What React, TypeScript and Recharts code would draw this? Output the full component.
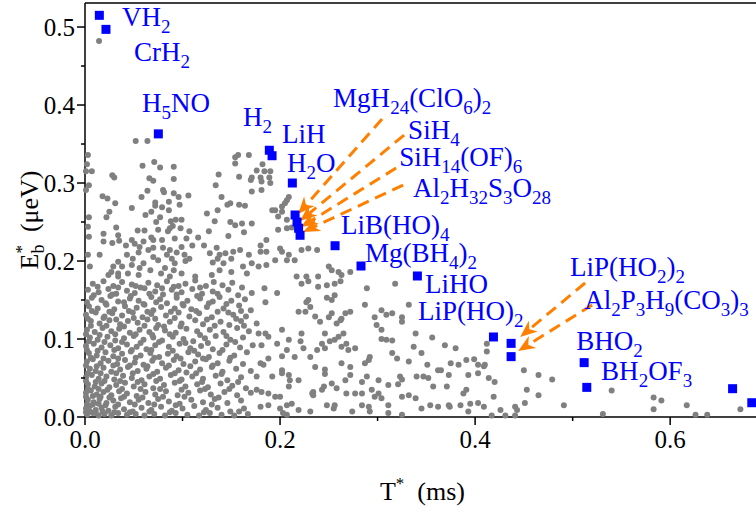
import React from 'react';
import { ScatterChart, Scatter, XAxis, YAxis, ReferenceLine, Label } from 'recharts';

const X_MAX = 0.688;
const Y_MAX = 0.5308;
const xTicks = [0, 0.1, 0.2, 0.3, 0.4, 0.5, 0.6];
const yTicks = [0, 0.05, 0.1, 0.15, 0.2, 0.25, 0.3, 0.35, 0.4, 0.45, 0.5];

// gray candidate materials: dense lower-left cloud
const grayDense: number[][] = [
  [0.008,0.171],[0.019,0.174],[0.029,0.168],[0.038,0.173],[0.048,0.170],[0.057,0.166],[0.065,0.172],[0.074,0.169],[0.084,0.174],[0.091,0.167],[0.103,0.171],[0.113,0.175],[0.124,0.168],[0.132,0.173],[0.151,0.172],[0.161,0.166],
  [0.003,0.163],[0.014,0.160],[0.024,0.164],[0.032,0.158],[0.043,0.162],[0.051,0.159],[0.061,0.165],[0.072,0.161],[0.080,0.157],[0.089,0.163],[0.099,0.160],[0.110,0.164],[0.120,0.158],[0.131,0.161],[0.147,0.163],[0.171,0.159],
  [0.007,0.153],[0.017,0.150],[0.026,0.155],[0.034,0.148],[0.046,0.152],[0.055,0.149],[0.068,0.154],[0.077,0.151],[0.084,0.146],[0.094,0.153],[0.105,0.149],[0.118,0.152],[0.127,0.146],[0.138,0.154],[0.150,0.149],[0.164,0.151],
  [0.004,0.142],[0.013,0.139],[0.022,0.144],[0.030,0.138],[0.041,0.142],[0.053,0.140],[0.061,0.144],[0.070,0.137],[0.078,0.141],[0.092,0.139],[0.101,0.143],[0.109,0.138],[0.125,0.141],[0.142,0.139],[0.158,0.143],[0.170,0.137],
  [0.001,0.131],[0.011,0.134],[0.020,0.129],[0.028,0.133],[0.038,0.130],[0.049,0.134],[0.059,0.128],[0.068,0.132],[0.083,0.130],[0.096,0.134],[0.107,0.129],[0.117,0.133],[0.130,0.128],[0.136,0.135],[0.152,0.131],[0.165,0.129],
  [0.006,0.123],[0.015,0.120],[0.025,0.124],[0.036,0.119],[0.044,0.123],[0.054,0.121],[0.064,0.125],[0.075,0.118],[0.087,0.122],[0.099,0.120],[0.113,0.124],[0.121,0.119],[0.139,0.122],[0.148,0.118],[0.160,0.123],
  [0.002,0.112],[0.010,0.109],[0.018,0.114],[0.027,0.110],[0.035,0.113],[0.046,0.108],[0.056,0.112],[0.066,0.109],[0.073,0.114],[0.082,0.111],[0.093,0.108],[0.104,0.113],[0.115,0.110],[0.128,0.112],[0.142,0.109],[0.156,0.114],[0.168,0.110],
  [0.005,0.102],[0.013,0.099],[0.023,0.103],[0.031,0.098],[0.040,0.101],[0.050,0.104],[0.060,0.099],[0.070,0.102],[0.079,0.098],[0.090,0.103],[0.101,0.100],[0.111,0.097],[0.123,0.101],[0.134,0.104],[0.149,0.099],[0.162,0.102],
  [0.001,0.091],[0.009,0.094],[0.017,0.089],[0.026,0.092],[0.034,0.088],[0.043,0.093],[0.053,0.090],[0.063,0.087],[0.072,0.092],[0.086,0.090],[0.097,0.094],[0.108,0.088],[0.119,0.091],[0.131,0.087],[0.145,0.093],[0.159,0.089],[0.172,0.092],
  [0.004,0.082],[0.012,0.079],[0.021,0.083],[0.029,0.078],[0.038,0.081],[0.047,0.084],[0.057,0.079],[0.067,0.082],[0.076,0.077],[0.085,0.081],[0.094,0.078],[0.106,0.083],[0.116,0.080],[0.127,0.077],[0.138,0.082],[0.153,0.079],[0.166,0.083],
  [0.002,0.071],[0.008,0.074],[0.016,0.069],[0.024,0.072],[0.033,0.068],[0.041,0.073],[0.051,0.070],[0.060,0.067],[0.069,0.072],[0.079,0.069],[0.091,0.073],[0.101,0.068],[0.113,0.071],[0.124,0.074],[0.136,0.069],[0.148,0.072],[0.162,0.068],
  [0.005,0.062],[0.011,0.059],[0.019,0.063],[0.027,0.058],[0.036,0.061],[0.044,0.064],[0.054,0.059],[0.063,0.062],[0.074,0.058],[0.083,0.063],[0.096,0.060],[0.104,0.057],[0.118,0.061],[0.130,0.064],[0.141,0.058],[0.155,0.062],[0.170,0.059],
  [0.001,0.051],[0.007,0.054],[0.014,0.049],[0.022,0.052],[0.030,0.048],[0.039,0.053],[0.048,0.050],[0.058,0.047],[0.066,0.052],[0.077,0.049],[0.088,0.054],[0.099,0.048],[0.110,0.052],[0.121,0.049],[0.134,0.053],[0.146,0.047],[0.160,0.051],
  [0.003,0.042],[0.010,0.039],[0.017,0.043],[0.025,0.038],[0.032,0.041],[0.041,0.044],[0.050,0.039],[0.061,0.042],[0.070,0.037],[0.081,0.041],[0.092,0.044],[0.103,0.039],[0.115,0.042],[0.126,0.038],[0.139,0.043],[0.151,0.040],[0.165,0.037],
  [0.001,0.031],[0.006,0.034],[0.012,0.029],[0.019,0.032],[0.027,0.028],[0.035,0.033],[0.043,0.030],[0.053,0.027],[0.062,0.032],[0.072,0.029],[0.083,0.033],[0.095,0.028],[0.106,0.031],[0.118,0.034],[0.129,0.029],[0.143,0.032],[0.156,0.028],[0.170,0.031],
  [0.003,0.022],[0.009,0.019],[0.015,0.023],[0.022,0.018],[0.029,0.021],[0.037,0.024],[0.046,0.019],[0.055,0.022],[0.065,0.018],[0.075,0.023],[0.086,0.020],[0.097,0.017],[0.109,0.022],[0.121,0.019],[0.133,0.023],[0.146,0.018],[0.160,0.021],
  [0.001,0.011],[0.005,0.014],[0.011,0.009],[0.017,0.012],[0.024,0.008],[0.031,0.013],[0.040,0.010],[0.049,0.007],[0.058,0.012],[0.068,0.009],[0.078,0.013],[0.089,0.008],[0.100,0.011],[0.112,0.014],[0.124,0.009],[0.136,0.012],[0.149,0.007],[0.163,0.011],
  [0.002,0.003],[0.008,0.005],[0.014,0.002],[0.020,0.004],[0.027,0.002],[0.034,0.005],[0.043,0.003],[0.052,0.004],[0.061,0.002],[0.071,0.004],[0.082,0.002],[0.093,0.005],[0.105,0.003],[0.117,0.002],[0.128,0.005],[0.140,0.003],[0.153,0.002],[0.167,0.004],
];

// gray: extra dots filling the dense cloud between the rows above
const grayDense2: number[][] = [
  [0.013,0.167],[0.034,0.166],[0.052,0.168],[0.079,0.165],[0.096,0.168],[0.118,0.166],[0.141,0.169],
  [0.009,0.156],[0.028,0.157],[0.047,0.155],[0.066,0.158],[0.094,0.157],[0.115,0.155],[0.136,0.158],[0.157,0.156],
  [0.002,0.147],[0.021,0.146],[0.040,0.147],[0.060,0.145],[0.073,0.147],[0.100,0.145],[0.131,0.148],[0.145,0.145],
  [0.007,0.136],[0.025,0.135],[0.045,0.136],[0.064,0.135],[0.088,0.135],[0.114,0.136],[0.147,0.134],[0.160,0.136],
  [0.003,0.126],[0.019,0.127],[0.032,0.125],[0.050,0.127],[0.072,0.126],[0.092,0.127],[0.125,0.125],[0.155,0.126],
  [0.006,0.117],[0.022,0.117],[0.040,0.116],[0.061,0.117],[0.081,0.116],[0.098,0.116],[0.133,0.117],[0.163,0.117],
  [0.001,0.106],[0.015,0.105],[0.031,0.106],[0.052,0.106],[0.069,0.105],[0.087,0.106],[0.118,0.105],[0.145,0.104],
  [0.004,0.097],[0.020,0.096],[0.038,0.096],[0.057,0.095],[0.076,0.096],[0.103,0.095],[0.126,0.095],[0.154,0.096],
  [0.002,0.086],[0.013,0.085],[0.030,0.086],[0.048,0.086],[0.068,0.086],[0.090,0.085],[0.112,0.085],[0.141,0.086],
  [0.006,0.076],[0.019,0.075],[0.034,0.075],[0.052,0.076],[0.071,0.076],[0.098,0.075],[0.121,0.075],[0.149,0.076],
  [0.001,0.066],[0.012,0.065],[0.029,0.066],[0.046,0.066],[0.064,0.065],[0.086,0.066],[0.108,0.065],[0.131,0.066],
  [0.003,0.056],[0.016,0.056],[0.032,0.056],[0.049,0.056],[0.070,0.055],[0.092,0.056],[0.114,0.056],[0.140,0.055],
  [0.001,0.046],[0.011,0.045],[0.020,0.046],[0.036,0.046],[0.054,0.045],[0.073,0.046],[0.097,0.046],[0.120,0.045],[0.157,0.045],
  [0.003,0.036],[0.014,0.036],[0.023,0.035],[0.038,0.036],[0.057,0.036],[0.077,0.036],[0.099,0.035],[0.123,0.036],[0.148,0.036],
  [0.001,0.026],[0.008,0.027],[0.016,0.026],[0.025,0.025],[0.040,0.026],[0.059,0.025],[0.080,0.026],[0.102,0.026],[0.137,0.025],
  [0.002,0.016],[0.008,0.016],[0.014,0.017],[0.021,0.015],[0.034,0.016],[0.051,0.016],[0.071,0.016],[0.093,0.015],[0.130,0.016],
  [0.001,0.006],[0.005,0.007],[0.011,0.005],[0.018,0.007],[0.030,0.006],[0.046,0.006],[0.066,0.007],[0.087,0.006],[0.122,0.006],[0.158,0.007],
];

// gray: upper-left region
const grayUpperLeft: number[][] = [
  [0.0144,0.482],
  [0.052,0.354],[0.064,0.354],[0.003,0.336],[0.002,0.324],[0.007,0.315],[0.001,0.315],[0.004,0.297],[0.001,0.291],
  [0.059,0.322],[0.071,0.327],[0.077,0.320],[0.091,0.321],[0.028,0.310],[0.030,0.307],[0.066,0.306],[0.070,0.303],[0.091,0.305],
  [0.018,0.283],[0.023,0.280],[0.031,0.274],[0.064,0.290],[0.080,0.291],[0.081,0.288],[0.091,0.287],[0.058,0.282],[0.072,0.275],[0.072,0.271],[0.096,0.282],[0.106,0.284],
  [0.048,0.268],[0.068,0.263],[0.079,0.269],[0.086,0.265],[0.086,0.276],[0.097,0.272],[0.025,0.263],[0.022,0.256],[0.062,0.259],[0.077,0.256],[0.073,0.250],[0.088,0.251],[0.093,0.253],[0.099,0.253],[0.004,0.256],
  [0.032,0.243],[0.003,0.244],[0.054,0.239],[0.061,0.239],[0.075,0.240],[0.087,0.242],[0.090,0.245],[0.098,0.242],[0.107,0.238],
  [0.004,0.231],[0.019,0.235],[0.019,0.225],[0.028,0.223],[0.034,0.233],[0.035,0.226],[0.042,0.220],[0.048,0.227],[0.051,0.222],[0.056,0.218],[0.060,0.225],[0.068,0.230],[0.070,0.227],[0.079,0.227],[0.085,0.238],[0.092,0.229],[0.104,0.229],[0.116,0.230],[0.110,0.220],[0.099,0.218],[0.087,0.214],[0.080,0.217],[0.070,0.217],[0.065,0.214],[0.055,0.211],
  [0.049,0.203],[0.043,0.208],[0.034,0.199],[0.029,0.193],[0.027,0.186],[0.015,0.208],[0.003,0.208],[0.005,0.193],[0.038,0.193],[0.034,0.184],[0.048,0.195],[0.060,0.197],[0.070,0.205],[0.075,0.201],[0.084,0.208],[0.089,0.203],[0.094,0.211],[0.102,0.208],[0.103,0.200],[0.107,0.203],[0.092,0.197],[0.082,0.191],[0.091,0.188],[0.067,0.188],[0.056,0.191],[0.055,0.182],[0.044,0.184],[0.034,0.180],[0.024,0.182],[0.078,0.184],[0.087,0.180],[0.099,0.184],[0.113,0.180],
  [0.125,0.261],[0.127,0.238],[0.133,0.251],[0.136,0.265],[0.140,0.282],[0.149,0.274],[0.146,0.272],[0.158,0.272],[0.164,0.271],[0.149,0.250],[0.154,0.246],[0.161,0.248],[0.163,0.237],[0.147,0.232],[0.171,0.248],
  [0.122,0.220],[0.128,0.210],[0.135,0.217],[0.138,0.208],[0.136,0.203],[0.131,0.198],[0.144,0.210],[0.152,0.212],[0.159,0.214],[0.150,0.203],[0.142,0.197],[0.168,0.208],[0.162,0.193],[0.171,0.197],[0.166,0.184],[0.138,0.188],[0.130,0.182],[0.150,0.186],
  [0.154,0.333],[0.157,0.336],[0.168,0.336],[0.154,0.325],[0.137,0.311],[0.158,0.308],[0.171,0.307],[0.170,0.304],[0.134,0.297],[0.171,0.289],
];

// gray: middle region
const grayMiddle: number[][] = [
  [0.182,0.324],[0.176,0.316],[0.184,0.315],[0.190,0.315],[0.180,0.307],[0.189,0.307],[0.181,0.302],[0.190,0.300],[0.181,0.291],
  [0.209,0.282],[0.207,0.278],[0.205,0.274],[0.202,0.270],[0.192,0.265],[0.195,0.265],[0.202,0.263],[0.198,0.257],[0.207,0.253],[0.198,0.240],[0.207,0.242],[0.212,0.243],
  [0.186,0.227],[0.180,0.220],[0.186,0.212],[0.180,0.212],[0.200,0.216],[0.202,0.212],[0.209,0.208],[0.222,0.214],[0.229,0.216],[0.238,0.214],[0.215,0.201],[0.207,0.201],[0.195,0.201],[0.186,0.195],[0.178,0.193],[0.250,0.193],[0.253,0.188],[0.260,0.186],[0.272,0.186],[0.227,0.180],[0.239,0.180],[0.217,0.180],[0.263,0.182],
  [0.222,0.171],[0.229,0.174],[0.239,0.167],[0.248,0.169],[0.256,0.171],[0.262,0.174],[0.184,0.165],[0.197,0.159],[0.229,0.150],[0.227,0.147],[0.248,0.153],[0.256,0.156],[0.253,0.150],[0.185,0.147],
  [0.219,0.135],[0.226,0.135],[0.231,0.141],[0.236,0.129],[0.241,0.122],[0.250,0.128],[0.253,0.133],[0.258,0.120],[0.262,0.124],[0.263,0.126],[0.267,0.133],[0.272,0.135],
  [0.289,0.165],[0.318,0.171],[0.287,0.144],[0.297,0.128],[0.304,0.137],[0.309,0.131],[0.315,0.133],[0.325,0.128],[0.325,0.122],[0.332,0.144],[0.299,0.118],[0.304,0.112],[0.304,0.100],[0.309,0.099],[0.315,0.098],
  [0.339,0.107],[0.337,0.090],[0.345,0.082],[0.315,0.082],[0.320,0.075],[0.332,0.071],[0.347,0.052],[0.340,0.052],[0.323,0.052],[0.325,0.048],[0.321,0.042],[0.311,0.041],[0.301,0.047],[0.292,0.077],[0.291,0.073],[0.289,0.052],[0.287,0.069],
  [0.294,0.035],[0.297,0.026],[0.301,0.030],[0.304,0.024],[0.311,0.015],[0.291,0.013],[0.292,0.007],[0.311,0.005],[0.325,0.026],[0.332,0.028],[0.339,0.024],[0.345,0.011],[0.325,0.003],
  [0.176,0.120],[0.178,0.107],[0.185,0.107],[0.188,0.103],[0.181,0.092],[0.197,0.094],[0.202,0.112],[0.209,0.099],[0.222,0.107],[0.221,0.097],[0.224,0.088],[0.243,0.094],[0.246,0.088],[0.251,0.097],[0.256,0.099],[0.260,0.103],[0.265,0.107],[0.263,0.090],[0.268,0.094],[0.270,0.086],[0.277,0.088],[0.246,0.107],[0.238,0.086],
  [0.231,0.077],[0.215,0.077],[0.207,0.086],[0.202,0.078],[0.188,0.075],[0.180,0.069],[0.183,0.067],[0.176,0.052],[0.192,0.052],[0.202,0.060],[0.202,0.056],[0.209,0.054],[0.210,0.047],[0.209,0.039],[0.219,0.047],[0.236,0.064],[0.246,0.061],[0.246,0.055],[0.253,0.043],[0.258,0.037],[0.245,0.039],[0.243,0.035],[0.234,0.032],
  [0.263,0.069],[0.272,0.064],[0.272,0.054],[0.267,0.047],[0.268,0.030],[0.277,0.030],[0.284,0.030],[0.284,0.045],[0.188,0.030],[0.195,0.026],[0.200,0.026],[0.181,0.032],[0.176,0.035],
  [0.180,0.013],[0.188,0.015],[0.200,0.011],[0.207,0.015],[0.212,0.017],[0.219,0.009],[0.203,0.005],[0.207,0.003],[0.231,0.007],[0.248,0.015],[0.256,0.015],[0.255,0.011],[0.274,0.007],[0.284,0.015],[0.233,0.030],[0.234,0.028],
];

// gray: right region
const grayRight: number[][] = [
  [0.356,0.102],[0.369,0.092],[0.380,0.088],[0.412,0.094],[0.391,0.073],[0.399,0.074],[0.375,0.069],[0.383,0.067],[0.403,0.067],[0.409,0.065],[0.410,0.067],[0.362,0.060],[0.365,0.060],[0.351,0.067],
  [0.373,0.054],[0.393,0.054],[0.403,0.056],[0.414,0.050],[0.420,0.045],[0.450,0.060],[0.465,0.054],[0.479,0.048],[0.352,0.050],[0.357,0.039],[0.371,0.039],[0.388,0.030],[0.391,0.035],[0.419,0.026],
  [0.403,0.018],[0.395,0.017],[0.385,0.015],[0.373,0.015],[0.374,0.013],[0.354,0.015],[0.362,0.013],[0.441,0.013],[0.443,0.009],[0.451,0.018],[0.441,0.002],[0.491,0.015],[0.417,0.002],[0.426,0.009],[0.431,0.002],[0.393,0.007],
  [0.412,0.084],[0.453,0.035],[0.465,0.028],[0.409,0.013],
  [0.540,0.034],[0.583,0.025],[0.591,0.021],[0.583,0.010],[0.617,0.015],[0.531,0.004],[0.626,0.003],[0.638,0.003],[0.672,0.010],
];

// highlighted materials
const blueX = [0.0147, 0.0215, 0.0752, 0.1890, 0.1918, 0.2126, 0.2154, 0.2174, 0.2190, 0.2205, 0.2564, 0.2830, 0.3408, 0.4188, 0.4369, 0.4369, 0.5118, 0.5145, 0.6640, 0.6837];
const blueY = [0.515, 0.497, 0.363, 0.342, 0.335, 0.300, 0.259, 0.250, 0.242, 0.233, 0.2196, 0.1936, 0.1808, 0.1026, 0.0944, 0.0774, 0.0697, 0.038, 0.0363, 0.0183];

// label texts ("_{..}" = subscript) and their anchor positions (data units)
const labelTexts = ['VH_{2}', 'CrH_{2}', 'H_{5}NO', 'H_{2}', 'LiH', 'H_{2}O', 'MgH_{24}(ClO_{6})_{2}', 'SiH_{4}', 'SiH_{14}(OF)_{6}', 'Al_{2}H_{32}S_{3}O_{28}', 'LiB(HO)_{4}', 'Mg(BH_{4})_{2}', 'LiHO', 'LiP(HO)_{2}', 'LiP(HO_{2})_{2}', 'Al_{2}P_{3}H_{9}(CO_{3})_{3}', 'BHO_{2}', 'BH_{2}OF_{3}'];
const labelX = [0.0379, 0.0503, 0.0585, 0.1621, 0.2021, 0.2072, 0.2544, 0.3313, 0.3221, 0.3364, 0.2626, 0.2872, 0.3487, 0.3415, 0.4974, 0.5118, 0.5036, 0.5292];
const labelY = [0.5013, 0.4564, 0.3910, 0.3731, 0.3513, 0.3141, 0.3974, 0.3564, 0.3218, 0.2821, 0.2346, 0.1987, 0.1590, 0.1244, 0.1808, 0.1385, 0.0859, 0.0474];

// arrows: tail (x1,y1) -> tip (x2,y2)
const arrowX1 = [0.3046, 0.3272, 0.3190, 0.3262, 0.5128, 0.5200];
const arrowY1 = [0.3821, 0.3615, 0.3192, 0.2974, 0.1718, 0.1436];
const arrowX2 = [0.2185, 0.2205, 0.2215, 0.2236, 0.4462, 0.4441];
const arrowY2 = [0.2603, 0.2513, 0.2436, 0.2372, 0.1026, 0.0846];

const FONT = '"Liberation Serif", "Times New Roman", serif';
const BLUE = '#0000FF';
const ORANGE = '#FF8000';
const GRAY = '#808080';

const grayData = [...grayDense, ...grayDense2, ...grayUpperLeft, ...grayMiddle, ...grayRight].map(([x, y]) => ({ x, y }));
const blueData = blueX.map((x, i) => ({ x, y: blueY[i] }));
const labelData = labelTexts.map((t, i) => ({ x: labelX[i], y: labelY[i], t }));

const rich = (s: string, size: number, subSize: number, off: number) => {
  const out: any[] = [];
  const re = /_\{([^}]*)\}/g;
  let last = 0;
  let level = 0;
  let key = 0;
  let m: RegExpExecArray | null;
  while ((m = re.exec(s))) {
    if (m.index > last) {
      out.push(<tspan key={key++} fontSize={size} dy={0 - level}>{s.slice(last, m.index)}</tspan>);
      level = 0;
    }
    out.push(<tspan key={key++} fontSize={subSize} dy={off - level}>{m[1]}</tspan>);
    level = off;
    last = m.index + m[0].length;
  }
  if (last < s.length) out.push(<tspan key={key++} fontSize={size} dy={0 - level}>{s.slice(last)}</tspan>);
  return out;
};

const GrayDot = (p: any) => <circle cx={p.cx} cy={p.cy} r={3} fill={GRAY} />;
const BlueSquare = (p: any) => <rect x={p.cx - 4.5} y={p.cy - 4.5} width={9} height={9} fill={BLUE} />;
const LabelShape = (p: any) => (
  <text x={p.cx} y={p.cy} fill={BLUE} fontFamily={FONT} fontSize={27}>
    {rich(p.payload.t, 27, 19, 7)}
  </text>
);

const ArrowShape = (p: any) => {
  const { x1, y1, x2, y2 } = p;
  const dx = x2 - x1;
  const dy = y2 - y1;
  const len = Math.sqrt(dx * dx + dy * dy) || 1;
  const ux = dx / len;
  const uy = dy / len;
  const nx = -uy;
  const ny = ux;
  const L = 17;
  const W = 7;
  const bx = x2 - L * ux;
  const by = y2 - L * uy;
  const mx = x2 - 0.7 * L * ux;
  const my = y2 - 0.7 * L * uy;
  const pts = `${x2},${y2} ${bx + W * nx},${by + W * ny} ${mx},${my} ${bx - W * nx},${by - W * ny}`;
  return (
    <g>
      <line x1={x1} y1={y1} x2={mx} y2={my} stroke={ORANGE} strokeWidth={3} strokeDasharray="12 7" />
      <polygon points={pts} fill={ORANGE} />
    </g>
  );
};

const XTick = (p: any) => {
  const v = p.payload.value;
  const major = Math.round(v * 10) % 2 === 0;
  return (
    <g>
      <line x1={p.x} x2={p.x} y1={p.y} y2={p.y + (major ? 8 : 4)} stroke="#000" strokeWidth={1.5} />
      {major && (
        <text x={p.x} y={p.y + 31} textAnchor="middle" fontFamily={FONT} fontSize={25} fill="#000">
          {v.toFixed(1)}
        </text>
      )}
    </g>
  );
};

const YTick = (p: any) => {
  const v = p.payload.value;
  const major = Math.round(v * 100) % 10 === 0;
  return (
    <g>
      <line x1={p.x} x2={p.x - (major ? 8 : 4)} y1={p.y} y2={p.y} stroke="#000" strokeWidth={1.5} />
      {major && (
        <text x={p.x - 10} y={p.y} dy="0.35em" textAnchor="end" fontFamily={FONT} fontSize={25} fill="#000">
          {v.toFixed(1)}
        </text>
      )}
    </g>
  );
};

const XTitle = (p: any) => {
  const vb = p.viewBox || { x: 85, y: 417, width: 671, height: 95 };
  const cx = vb.x + vb.width / 2 + 2;
  const cy = vb.y + 83;
  return (
    <text x={cx} y={cy} textAnchor="middle" fontFamily={FONT} fontSize={26} fill="#000">
      T<tspan fontSize={17} dy={-11}>*</tspan>
      <tspan dy={11}>{'\u00a0\u00a0(ms)'}</tspan>
    </text>
  );
};

const YTitle = (p: any) => {
  const vb = p.viewBox || { x: 0, y: 3, width: 85, height: 414 };
  const cx = 38;
  const cy = vb.y + vb.height / 2 + 10;
  return (
    <text x={cx} y={cy} textAnchor="middle" fontFamily={FONT} fontSize={26} fill="#000" transform={`rotate(-90, ${cx}, ${cy})`}>
      E<tspan fontSize={18} dy={6}>b</tspan>
      <tspan fontSize={17} dx={-9} dy={-17}>*</tspan>
      <tspan dy={11}>{'\u00a0\u00a0(\u03bceV)'}</tspan>
    </text>
  );
};

export default function App() {
  return (
    <div style={{ position: 'absolute', left: 0, top: 0, width: 756, height: 512, overflow: 'hidden', background: '#fff' }}>
      <ScatterChart width={756} height={512} margin={{ top: 3, right: 0, bottom: 0, left: 0 }}>
        <XAxis
          type="number"
          dataKey="x"
          domain={[0, X_MAX]}
          ticks={xTicks}
          interval={0}
          tick={<XTick />}
          tickLine={false}
          tickSize={0}
          tickMargin={0}
          height={95}
          axisLine={{ stroke: '#000', strokeWidth: 1.5 }}
          label={<Label content={<XTitle />} />}
        />
        <YAxis
          type="number"
          dataKey="y"
          domain={[0, Y_MAX]}
          ticks={yTicks}
          interval={0}
          tick={<YTick />}
          tickLine={false}
          tickSize={0}
          tickMargin={0}
          width={85}
          axisLine={{ stroke: '#000', strokeWidth: 1.5 }}
          label={<Label content={<YTitle />} />}
        />
        <ReferenceLine y={Y_MAX} stroke="#000" strokeWidth={1.5} />
        <Scatter data={grayData} shape={GrayDot} isAnimationActive={false} />
        <Scatter data={blueData} shape={BlueSquare} isAnimationActive={false} />
        {arrowX1.map((x1, i) => (
          <ReferenceLine
            key={i}
            segment={[{ x: x1, y: arrowY1[i] }, { x: arrowX2[i], y: arrowY2[i] }]}
            shape={ArrowShape}
          />
        ))}
        <Scatter data={labelData} shape={LabelShape} isAnimationActive={false} />
      </ScatterChart>
    </div>
  );
}
